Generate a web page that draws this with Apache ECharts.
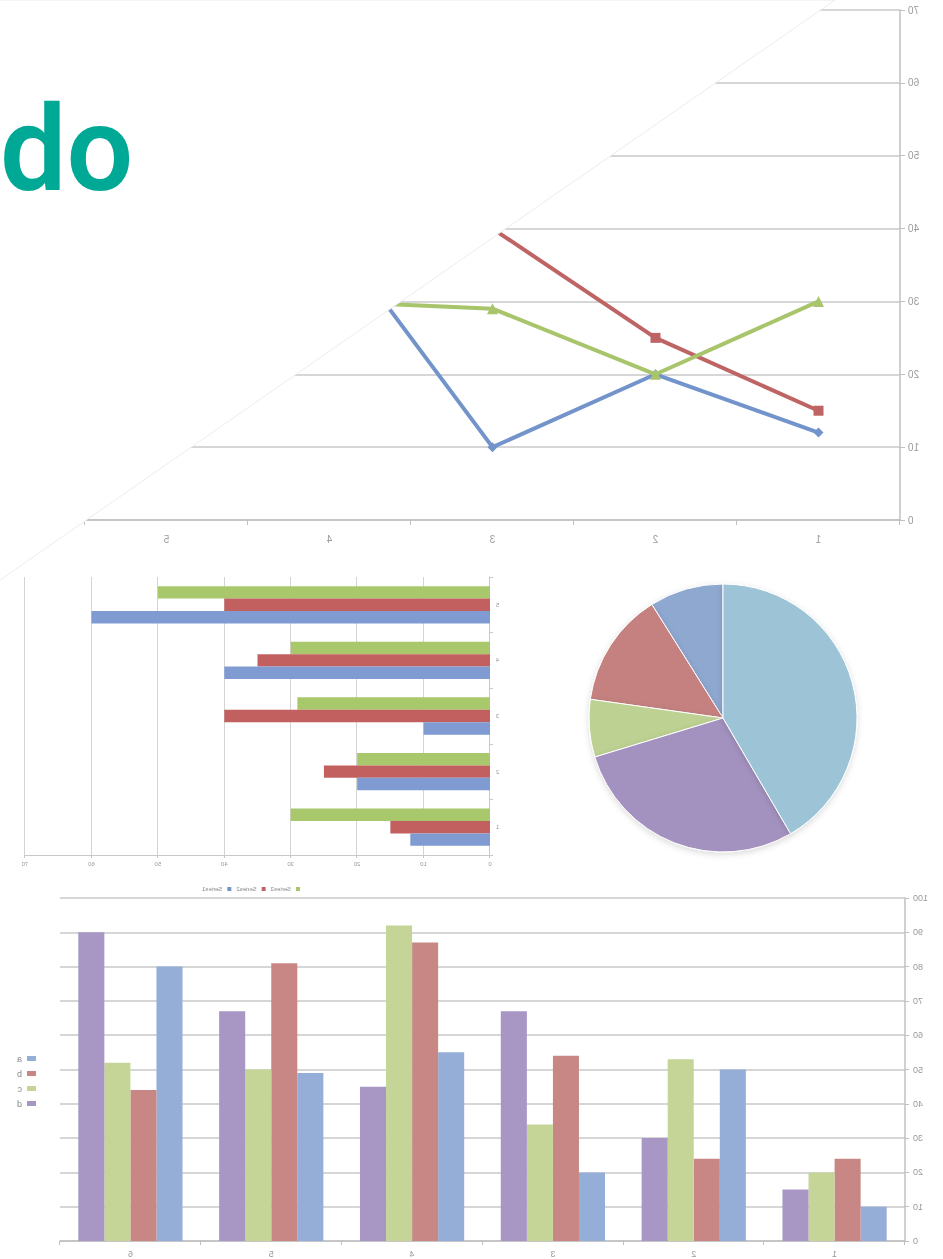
<!DOCTYPE html>
<html>
<head>
<meta charset="utf-8">
<script src="https://cdn.jsdelivr.net/npm/echarts@6/dist/echarts.min.js"></script>
<style>
html,body{margin:0;padding:0;background:#fff;}
#wrap{position:relative;width:943px;height:1259px;overflow:hidden;}
#main{position:absolute;left:0;top:0;width:943px;height:1259px;transform:scaleX(-1);}
#title{position:absolute;left:0;top:0;width:943px;height:260px;pointer-events:none;}
</style>
</head>
<body>
<div id="wrap"><div id="main"></div><div id="title"></div></div>
<script>
// ---- data ----
const lineCategories = ['1', '2', '3', '4', '5'];
const series1 = [12, 20, 10, 40, 60];
const series2 = [15, 25, 40, 35, 40];
const series3 = [30, 20, 29, 30, 50];

const pieNames = ['1', '2', '3', '4', '5'];
const pieValues = [9, 14, 7, 29, 42];

const colCategories = ['1', '2', '3', '4', '5', '6'];
const colA = [10, 50, 20, 55, 49, 80];
const colB = [24, 24, 54, 87, 81, 44];
const colC = [20, 53, 34, 92, 50, 52];
const colD = [15, 30, 67, 45, 67, 90];

const titleText = 'do';

// ---- styles ----
const lineColors = ['#7394CB', '#BF6464', '#A8C56C'];
const hbarColors = ['#7F9BD2', '#C2605F', '#A9C86C'];
const pieColors = ['#8FA8D0', '#C4817F', '#BDD192', '#A392BF', '#9DC3D6'];
const colColors = ['#94AED8', '#C88785', '#C4D597', '#A896C4'];
const grey = '#9a9a9a';
const gridLine = '#c8c8c8';

const chart = echarts.init(document.getElementById('main'), null, {renderer: 'svg'});

const hbarCommon = {type: 'bar', xAxisIndex: 1, yAxisIndex: 1, barGap: '0%', barCategoryGap: '33%'};
const colCommon = {type: 'bar', xAxisIndex: 2, yAxisIndex: 2, barGap: '0%', barCategoryGap: '26%'};

const option = {
  animation: false,
  backgroundColor: '#fff',
  grid: [
    {left: 43, top: 10, width: 815, height: 510},
    {left: 453, top: 577, width: 465, height: 278},
    {left: 38, top: 898, width: 845, height: 343}
  ],
  legend: [
    {
      data: ['Series3', 'Series2', 'Series1'],
      left: 638, top: 881, itemWidth: 4, itemHeight: 4, itemGap: 5,
      icon: 'rect', textStyle: {fontSize: 6, color: '#888'}
    },
    {
      data: ['a', 'b', 'c', 'd'],
      orient: 'vertical', left: 902, top: 1049, itemWidth: 9, itemHeight: 5, itemGap: 6,
      icon: 'rect', textStyle: {fontSize: 9, color: '#888'}
    }
  ],
  xAxis: [
    {
      gridIndex: 0, type: 'category', data: lineCategories, boundaryGap: true,
      axisLine: {lineStyle: {color: '#c0c0c0', width: 1.5}},
      axisTick: {show: true, length: 5, lineStyle: {color: '#c0c0c0'}},
      axisLabel: {color: grey, fontSize: 10, margin: 14}
    },
    {
      gridIndex: 1, type: 'value', min: 0, max: 70, interval: 10,
      axisLine: {show: true, lineStyle: {color: '#c8c8c8'}},
      axisTick: {show: true, length: 3, lineStyle: {color: '#c8c8c8'}},
      axisLabel: {color: grey, fontSize: 6, margin: 6},
      splitLine: {show: true, lineStyle: {color: '#d4d4d4'}}
    },
    {
      gridIndex: 2, type: 'category', data: colCategories, boundaryGap: true,
      axisLine: {lineStyle: {color: '#c0c0c0', width: 1.5}},
      axisTick: {show: true, length: 4, lineStyle: {color: '#c0c0c0'}},
      axisLabel: {color: grey, fontSize: 9, margin: 8}
    }
  ],
  yAxis: [
    {
      gridIndex: 0, type: 'value', min: 0, max: 70, interval: 10,
      axisLine: {show: true, lineStyle: {color: '#c0c0c0', width: 1.5}},
      axisTick: {show: true, length: 5, lineStyle: {color: '#c0c0c0'}},
      axisLabel: {color: grey, fontSize: 10, margin: 8},
      splitLine: {show: true, lineStyle: {color: gridLine, width: 1.5}}
    },
    {
      gridIndex: 1, type: 'category', data: lineCategories, boundaryGap: true,
      axisLine: {show: true, lineStyle: {color: '#c8c8c8'}},
      axisTick: {show: true, length: 3, lineStyle: {color: '#c8c8c8'}},
      axisLabel: {color: grey, fontSize: 6, margin: 6}
    },
    {
      gridIndex: 2, type: 'value', min: 0, max: 100, interval: 10,
      axisLine: {show: true, lineStyle: {color: '#c0c0c0', width: 1.5}},
      axisTick: {show: true, length: 4, lineStyle: {color: '#c0c0c0'}},
      axisLabel: {color: grey, fontSize: 9, margin: 8},
      splitLine: {show: true, lineStyle: {color: gridLine, width: 1.5}}
    }
  ],
  series: [
    // line chart
    {name: 'Series1', type: 'line', xAxisIndex: 0, yAxisIndex: 0, data: series1,
      color: lineColors[0], symbol: 'diamond', symbolSize: 10, lineStyle: {width: 4}, z: 3},
    {name: 'Series2', type: 'line', xAxisIndex: 0, yAxisIndex: 0, data: series2,
      color: lineColors[1], symbol: 'rect', symbolSize: 10, lineStyle: {width: 4}, z: 2},
    {name: 'Series3', type: 'line', xAxisIndex: 0, yAxisIndex: 0, data: series3,
      color: lineColors[2], symbol: 'triangle', symbolSize: 11, lineStyle: {width: 4}, z: 4},
    // horizontal bars (listed top-to-bottom within each category)
    Object.assign({name: 'Series3', data: series3, color: hbarColors[2]}, hbarCommon),
    Object.assign({name: 'Series2', data: series2, color: hbarColors[1]}, hbarCommon),
    Object.assign({name: 'Series1', data: series1, color: hbarColors[0]}, hbarCommon),
    // pie
    {type: 'pie', center: [220, 718], radius: 134, startAngle: 90, clockwise: true,
      label: {show: false}, labelLine: {show: false},
      itemStyle: {borderColor: '#fff', borderWidth: 1, shadowBlur: 6, shadowColor: 'rgba(0,0,0,0.15)', shadowOffsetY: 2},
      data: pieNames.map((n, i) => ({name: n, value: pieValues[i], itemStyle: {color: pieColors[i]}}))},
    // columns
    Object.assign({name: 'a', data: colA, color: colColors[0]}, colCommon),
    Object.assign({name: 'b', data: colB, color: colColors[1]}, colCommon),
    Object.assign({name: 'c', data: colC, color: colColors[2]}, colCommon),
    Object.assign({name: 'd', data: colD, color: colColors[3]}, colCommon)
  ],
  graphic: [
    {type: 'polygon', z: 100, silent: true,
      shape: {points: [[943, 580], [108, 0], [943, 0], [950, 0], [950, 585]]},
      style: {fill: '#ffffff', stroke: '#ececec', lineWidth: 1}}
  ]
};
chart.setOption(option);

const t = echarts.init(document.getElementById('title'), null, {renderer: 'svg'});
t.setOption({
  animation: false,
  graphic: [{
    type: 'text', left: 0, top: 91,
    style: {text: titleText, fill: '#00A896', font: '600 118px Roboto, "Liberation Sans", sans-serif'}
  }]
});
</script>
</body>
</html>
